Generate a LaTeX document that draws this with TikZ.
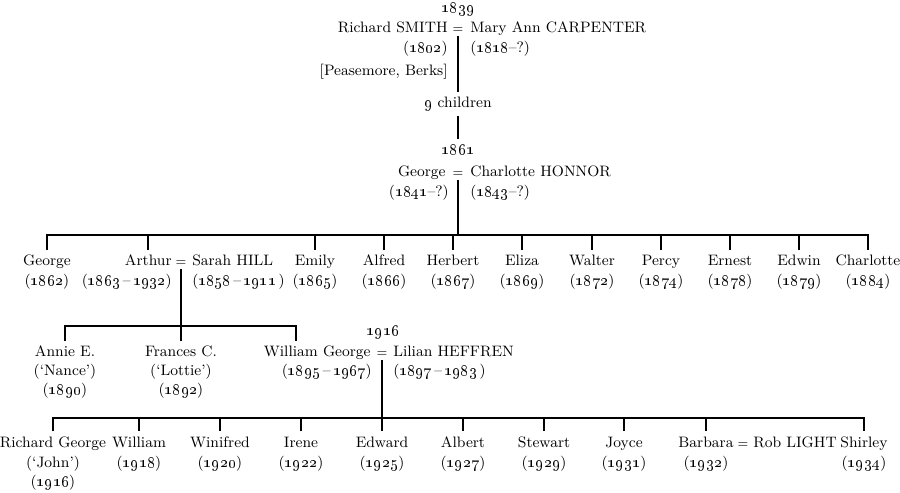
\documentclass[tikz,border=0pt]{standalone}
\usepackage{tikz}
\usetikzlibrary{positioning,calc}

\newcommand{\yr}[1]{{\fontencoding{TS1}\selectfont #1}}

\begin{document}
\begin{tikzpicture}[x=0.02cm, y=-0.02cm,
    person/.style={inner xsep=0pt, inner ysep=2.6pt, text height=6.3pt, text depth=2pt, font=\fontsize{8.6}{10.5}\selectfont},
    marr/.style={inner xsep=0pt, inner ysep=0.7pt, text depth=1pt, font=\scriptsize},
    link/.style={line width=1pt}
]
\useasboundingbox (0,0) rectangle (900,493);

% Richard SMITH = Mary Ann CARPENTER
\node[person, anchor=base] (y1839) at (458,13) {\yr{1839}};
\node[marr, anchor=base] (eq1) at (458,33) {=};
\node[person, anchor=base east] (richard) at (448,33) {Richard SMITH};
\node[person, anchor=base west] (maryann) at (470,33) {Mary Ann CARPENTER};
\node[person, anchor=base east] (richard-yr) at (448,53) {(\yr{1802})};
\node[person, anchor=base west] (maryann-yr) at (470,53) {(\yr{1818}--?)};
\node[person, anchor=base east] (place) at (448,76) {[Peasemore, Berks]};
\node[person, anchor=base] (nine) at (458,108) {\yr{9} children};
\draw[link] (eq1.south) -- (nine.north);

% George = Charlotte HONNOR
\node[person, anchor=base] (y1861) at (458,155) {\yr{1861}};
\node[marr, anchor=base] (eq2) at (458,177) {=};
\node[person, anchor=base east] (george) at (446,177) {George};
\node[person, anchor=base west] (charlotte) at (470,177) {Charlotte HONNOR};
\node[person, anchor=base east] (george-yr) at (449,197) {(\yr{1841}--?)};
\node[person, anchor=base west] (charlotte-yr) at (470,197) {(\yr{1843}--?)};
\draw[link] (nine.south) -- (y1861.north);

% their children
\coordinate (bar1) at (458,235);
\foreach \x/\n/\name/\born in {47/george2/George/1862, 315/emily/Emily/1865,
    384/alfred/Alfred/1866, 453/herbert/Herbert/1867, 522/eliza/Eliza/1869,
    592/walter/Walter/1872, 661/percy/Percy/1874, 730/ernest/Ernest/1878,
    799/edwin/Edwin/1879, 868/charlotte2/Charlotte/1884}{
  \node[person, anchor=base] (\n) at (\x,266) {\name};
  \node[person, anchor=base] (\n-yr) at (\x,286) {(\yr{\born})};
}
\node[marr, anchor=base] (eq3) at (181,266) {=};
\node[person, anchor=base east] (arthur) at (172,266) {Arthur};
\node[person, anchor=base west] (sarah) at (192,266) {Sarah HILL};
\node[person, anchor=base east] (arthur-yr) at (172,286) {(\yr{1863}\,--\,\yr{1932})};
\node[person, anchor=base west] (sarah-yr) at (192,286) {(\yr{1858}\,--\,\yr{1911}\,)};

\draw[link] (eq2.south) -- (bar1);
\draw[link] (george2.north) |- (bar1) -| (charlotte2.north);
\foreach \n in {arthur, emily, alfred, herbert, eliza, walter, percy, ernest, edwin}
  \draw[link] (\n.north) -- (\n.north |- bar1);

% Arthur's children
\coordinate (bar2) at (181,326);
\foreach \x/\n/\name/\nick/\born in {65/annie/Annie E./Nance/1890, 181/frances/Frances C./Lottie/1892}{
  \node[person, anchor=base] (\n) at (\x,357) {\name};
  \node[person, anchor=base] (\n-nick) at (\x,376) {(`\nick')};
  \node[person, anchor=base] (\n-yr) at (\x,395) {(\yr{\born})};
}
\node[person, anchor=base] (y1916) at (383,336) {\yr{1916}};
\node[marr, anchor=base] (eq4) at (382,357) {=};
\node[person, anchor=base east] (williamg) at (371,357) {William George};
\node[person, anchor=base west] (lilian) at (393,357) {Lilian HEFFREN};
\node[person, anchor=base east] (williamg-yr) at (372,376) {(\yr{1895}\,--\,\yr{1967})};
\node[person, anchor=base west] (lilian-yr) at (393,376) {(\yr{1897}\,--\,\yr{1983}\,)};
\coordinate (williamg-top) at (296,341);

\draw[link] (eq3.south) -- (bar2);
\draw[link] (annie.north) |- (bar2) -| (williamg-top);
\draw[link] (frances.north) -- (bar2);

% William George's children
\coordinate (bar3) at (382,418);
\node[person, anchor=base] (richardg) at (53,447) {Richard George};
\node[person, anchor=base] (richardg-nick) at (53,467) {(`John')};
\node[person, anchor=base] (richardg-yr) at (53,486) {(\yr{1916})};
\foreach \x/\n/\name/\born in {139/william/William/1918, 220/winifred/Winifred/1920,
    301/irene/Irene/1922, 382/edward/Edward/1925, 463/albert/Albert/1927,
    544/stewart/Stewart/1929, 624/joyce/Joyce/1931, 706/barbara/Barbara/1932,
    864/shirley/Shirley/1934}{
  \node[person, anchor=base] (\n) at (\x,447) {\name};
  \node[person, anchor=base] (\n-yr) at (\x,467) {(\yr{\born})};
}
\node[marr, anchor=base] (eq5) at (743,447) {=};
\node[person, anchor=base west] (rob) at (753,447) {Rob LIGHT};

\draw[link] (eq4.south) -- (bar3);
\draw[link] (richardg.north) |- (bar3) -| (shirley.north);
\foreach \n in {william, winifred, irene, edward, albert, stewart, joyce, barbara}
  \draw[link] (\n.north) -- (\n.north |- bar3);
\end{tikzpicture}
\end{document}
